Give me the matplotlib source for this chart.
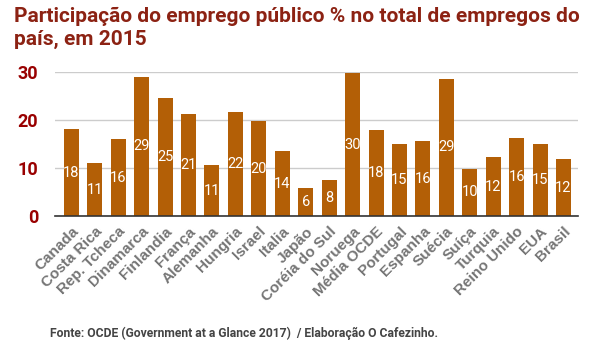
import matplotlib
matplotlib.use("Agg")
import matplotlib.pyplot as plt
import numpy as np

categories = ["Canada", "Costa Rica", "Rep. Tcheca", "Dinamarca", "Finlandia", "França",
              "Alemanha", "Hungria", "Israel", "Italia", "Japão", "Coréia do Sul", "Noruega",
              "Média OCDE", "Portugal", "Espanha", "Suécia", "Suíça", "Turquia",
              "Reino Unido", "EUA", "Brasil"]
values = [18.1, 11.0, 16.0, 29.0, 24.6, 21.2, 10.6, 21.6, 19.7, 13.5, 5.8, 7.5, 29.7,
          17.9, 14.9, 15.6, 28.6, 9.8, 12.2, 16.2, 15.1, 11.8]
yticks = [0, 10, 20, 30]

W, H = 594, 353
fig = plt.figure(figsize=(W / 100, H / 100), dpi=100)
ax = fig.add_axes([55 / W, (H - 216) / H, (578 - 55) / W, (216 - 72) / H])

x = np.arange(len(categories))
bars = ax.bar(x, values, width=0.64, color="#b35f06", zorder=3)
for xi, v in zip(x, values):
    ax.text(xi, v / 2, f"{int(v + 0.5):d}", ha="center", va="center", color="white",
            fontsize=10.5, family="Roboto", zorder=4)

ax.set_xlim(-0.70, len(categories) - 1 + 0.62)
ax.set_ylim(0, 30)
ax.set_yticks(yticks)
ax.set_yticklabels([str(t) for t in yticks], color="#990000", fontsize=13,
                   fontweight="bold", family="Roboto")
ax.grid(axis="y", color="#cccccc", linewidth=1, zorder=0)
ax.tick_params(axis="y", length=0, pad=12)
ax.tick_params(axis="x", length=0, pad=6)
ax.set_xticks(x)
ax.set_xticklabels(categories, rotation=45, ha="right", rotation_mode="anchor",
                   color="#757575", fontsize=11, fontweight="bold", family="Liberation Sans")
for s in ["top", "right", "left"]:
    ax.spines[s].set_visible(False)
ax.spines["bottom"].set_color("#333333")
ax.spines["bottom"].set_linewidth(1.2)
ax.spines["bottom"].set_zorder(5)

fig.text(14 / W, 1 - 7 / H, "Participação do emprego público % no total de empregos do\npaís, em 2015",
         ha="left", va="top", color="#8c2213", fontsize=15, fontweight="bold",
         family="Roboto", linespacing=1.22)
fig.text(50 / W, 1 - 333 / H, "Fonte: OCDE (Government at a Glance 2017)  / Elaboração O Cafezinho.",
         ha="left", va="center", color="#444444", fontsize=8.7, fontweight="bold", family="Roboto")

fig.savefig("out.png", dpi=100)
